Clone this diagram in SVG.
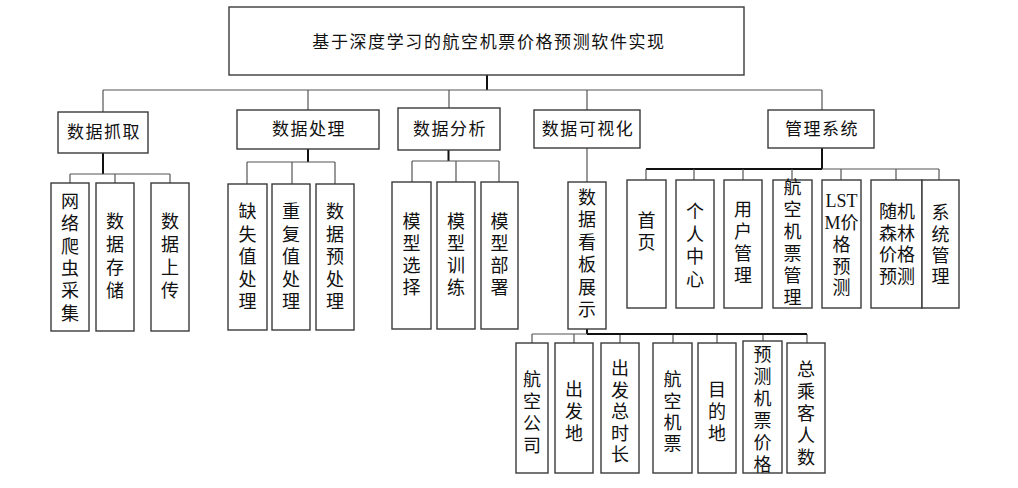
<svg xmlns="http://www.w3.org/2000/svg" width="1018" height="488" viewBox="0 0 1018 488">
<style>
.bg{fill:#ffffff}
rect.b{fill:#ffffff;stroke:#3a3a3a;stroke-width:1.4}
.t{font-family:"Liberation Serif","Noto Sans CJK SC",serif;fill:#111;text-anchor:middle;dominant-baseline:central}
.t0{font-size:17px;letter-spacing:1.6px}
.t1{font-size:17px;letter-spacing:1.5px}
.tv{font-size:18px}
.c path{fill:none}
.thin{stroke:#555;stroke-width:1.2}
.thick{stroke:#111;stroke-width:2}
</style>
<rect class="bg" x="0" y="0" width="1018" height="488"/>
<g id="connectors" class="c">
<path class="thick" d="M487 75V90"/>
<path class="thin" d="M103 90H822M103 90V112M308 90V110M449 90V108M587 90V110M822 90V110"/>
<path class="thick" d="M103 153V174"/>
<path class="thin" d="M70 174H170M70 174V183M115 174V183M170 174V183"/>
<path class="thick" d="M308 149V162"/>
<path class="thin" d="M247 162H335M247 162V184M292 162V184M335 162V184"/>
<path class="thick" d="M448.5 150V161"/>
<path class="thin" d="M412 161H499M412 161V182M456 161V182M499 161V182"/>
<path class="thin" d="M587 148V182"/>
<path class="thick" d="M587 329V334"/>
<path class="thin" d="M532 334H807M532 334V343M574 334V343M620 334V343M673 334V343M717 334V343M763 334V341M807 334V343"/>
<path class="thick" d="M587 334H807"/>
<path class="thick" d="M822 148V169M646 169H822"/>
<path class="thin" d="M822 169H939M646 169V180M694 169V180M743 169V180M792 169V180M841 169V180M896 169V180M939 169V180"/>
</g>
<g id="root"><rect class="b" x="229" y="7" width="515" height="68"/><text class="t t0" x="489" y="42">基于深度学习的航空机票价格预测软件实现</text></g>
<g id="n1"><rect class="b" x="58" y="112" width="90" height="41"/><text class="t t1" x="104" y="132.5">数据抓取</text></g>
<g id="n2"><rect class="b" x="237" y="110" width="142" height="39"/><text class="t t1" x="309" y="129.5">数据处理</text></g>
<g id="n3"><rect class="b" x="398" y="108" width="102" height="42"/><text class="t t1" x="450" y="129">数据分析</text></g>
<g id="n4"><rect class="b" x="534" y="110" width="106" height="38"/><text class="t t1" x="588" y="129">数据可视化</text></g>
<g id="n5"><rect class="b" x="768" y="110" width="106" height="38"/><text class="t t1" x="822" y="129">管理系统</text></g>

<g id="n1a"><rect class="b" x="51" y="183" width="38" height="148"/><text class="t tv"><tspan x="70" y="202">网</tspan><tspan x="70" y="224.3">络</tspan><tspan x="70" y="246.6">爬</tspan><tspan x="70" y="268.9">虫</tspan><tspan x="70" y="291.2">采</tspan><tspan x="70" y="313.5">集</tspan></text></g>
<g id="n1b"><rect class="b" x="96" y="183" width="38" height="148"/><text class="t tv"><tspan x="115" y="222">数</tspan><tspan x="115" y="245">据</tspan><tspan x="115" y="268">存</tspan><tspan x="115" y="291">储</tspan></text></g>
<g id="n1c"><rect class="b" x="151" y="183" width="38" height="148"/><text class="t tv"><tspan x="170" y="222">数</tspan><tspan x="170" y="245">据</tspan><tspan x="170" y="268">上</tspan><tspan x="170" y="291">传</tspan></text></g>

<g id="n2a"><rect class="b" x="228" y="184" width="39" height="146"/><text class="t tv"><tspan x="247.5" y="212">缺</tspan><tspan x="247.5" y="234.5">失</tspan><tspan x="247.5" y="257">值</tspan><tspan x="247.5" y="279.5">处</tspan><tspan x="247.5" y="302">理</tspan></text></g>
<g id="n2b"><rect class="b" x="272" y="184" width="38" height="146"/><text class="t tv"><tspan x="291" y="212">重</tspan><tspan x="291" y="234.5">复</tspan><tspan x="291" y="257">值</tspan><tspan x="291" y="279.5">处</tspan><tspan x="291" y="302">理</tspan></text></g>
<g id="n2c"><rect class="b" x="316" y="184" width="38" height="146"/><text class="t tv"><tspan x="335" y="212">数</tspan><tspan x="335" y="234.5">据</tspan><tspan x="335" y="257">预</tspan><tspan x="335" y="279.5">处</tspan><tspan x="335" y="302">理</tspan></text></g>

<g id="n3a"><rect class="b" x="392" y="182" width="39" height="147"/><text class="t tv"><tspan x="411.5" y="222">模</tspan><tspan x="411.5" y="244">型</tspan><tspan x="411.5" y="266">选</tspan><tspan x="411.5" y="288">择</tspan></text></g>
<g id="n3b"><rect class="b" x="437" y="182" width="38" height="147"/><text class="t tv"><tspan x="456" y="222">模</tspan><tspan x="456" y="244">型</tspan><tspan x="456" y="266">训</tspan><tspan x="456" y="288">练</tspan></text></g>
<g id="n3c"><rect class="b" x="481" y="182" width="37" height="147"/><text class="t tv"><tspan x="499.5" y="222">模</tspan><tspan x="499.5" y="244">型</tspan><tspan x="499.5" y="266">部</tspan><tspan x="499.5" y="288">署</tspan></text></g>

<g id="n4a"><rect class="b" x="568" y="182" width="38" height="147"/><text class="t tv"><tspan x="587" y="198">数</tspan><tspan x="587" y="220.4">据</tspan><tspan x="587" y="242.8">看</tspan><tspan x="587" y="265.2">板</tspan><tspan x="587" y="287.6">展</tspan><tspan x="587" y="310">示</tspan></text></g>

<g id="n4b1"><rect class="b" x="516" y="343" width="32" height="130"/><text class="t tv"><tspan x="532" y="380">航</tspan><tspan x="532" y="402">空</tspan><tspan x="532" y="424">公</tspan><tspan x="532" y="446">司</tspan></text></g>
<g id="n4b2"><rect class="b" x="555" y="343" width="38" height="130"/><text class="t tv"><tspan x="574" y="390">出</tspan><tspan x="574" y="412">发</tspan><tspan x="574" y="434">地</tspan></text></g>
<g id="n4b3"><rect class="b" x="601" y="343" width="38" height="130"/><text class="t tv"><tspan x="620" y="369">出</tspan><tspan x="620" y="390.5">发</tspan><tspan x="620" y="412">总</tspan><tspan x="620" y="433.5">时</tspan><tspan x="620" y="455">长</tspan></text></g>
<g id="n4b4"><rect class="b" x="653" y="343" width="39" height="130"/><text class="t tv"><tspan x="672.5" y="380">航</tspan><tspan x="672.5" y="402">空</tspan><tspan x="672.5" y="423">机</tspan><tspan x="672.5" y="444">票</tspan></text></g>
<g id="n4b5"><rect class="b" x="698" y="343" width="38" height="130"/><text class="t tv"><tspan x="717" y="390">目</tspan><tspan x="717" y="412">的</tspan><tspan x="717" y="434">地</tspan></text></g>
<g id="n4b6"><rect class="b" x="743" y="341" width="39" height="132"/><text class="t tv"><tspan x="762.5" y="355">预</tspan><tspan x="762.5" y="377">测</tspan><tspan x="762.5" y="399">机</tspan><tspan x="762.5" y="421">票</tspan><tspan x="762.5" y="443">价</tspan><tspan x="762.5" y="465">格</tspan></text></g>
<g id="n4b7"><rect class="b" x="787" y="343" width="38" height="130"/><text class="t tv"><tspan x="806" y="370">总</tspan><tspan x="806" y="392">乘</tspan><tspan x="806" y="414">客</tspan><tspan x="806" y="436">人</tspan><tspan x="806" y="458">数</tspan></text></g>

<g id="n5a"><rect class="b" x="627" y="180" width="39" height="128"/><text class="t tv"><tspan x="646.5" y="221">首</tspan><tspan x="646.5" y="243">页</tspan></text></g>
<g id="n5b"><rect class="b" x="676" y="180" width="38" height="128"/><text class="t tv"><tspan x="695" y="212">个</tspan><tspan x="695" y="235">人</tspan><tspan x="695" y="257">中</tspan><tspan x="695" y="280">心</tspan></text></g>
<g id="n5c"><rect class="b" x="724" y="180" width="38" height="128"/><text class="t tv"><tspan x="743" y="210">用</tspan><tspan x="743" y="232">户</tspan><tspan x="743" y="254">管</tspan><tspan x="743" y="276">理</tspan></text></g>
<g id="n5d"><rect class="b" x="773" y="180" width="39" height="128"/><text class="t tv"><tspan x="792.5" y="188">航</tspan><tspan x="792.5" y="210">空</tspan><tspan x="792.5" y="232">机</tspan><tspan x="792.5" y="254">票</tspan><tspan x="792.5" y="276">管</tspan><tspan x="792.5" y="298">理</tspan></text></g>
<g id="n5e"><rect class="b" x="822" y="180" width="39" height="128"/><text class="t tv"><tspan x="841.5" y="201">LST</tspan><tspan x="841.5" y="223">M价</tspan><tspan x="841.5" y="245">格</tspan><tspan x="841.5" y="267">预</tspan><tspan x="841.5" y="288">测</tspan></text></g>
<g id="n5f"><rect class="b" x="871" y="180" width="51" height="128"/><text class="t tv"><tspan x="897" y="212">随机</tspan><tspan x="897" y="233.5">森林</tspan><tspan x="897" y="255">价格</tspan><tspan x="897" y="277">预测</tspan></text></g>
<g id="n5g"><rect class="b" x="922" y="180" width="37" height="128"/><text class="t tv"><tspan x="940.5" y="213">系</tspan><tspan x="940.5" y="234.5">统</tspan><tspan x="940.5" y="256">管</tspan><tspan x="940.5" y="277">理</tspan></text></g>
</svg>
